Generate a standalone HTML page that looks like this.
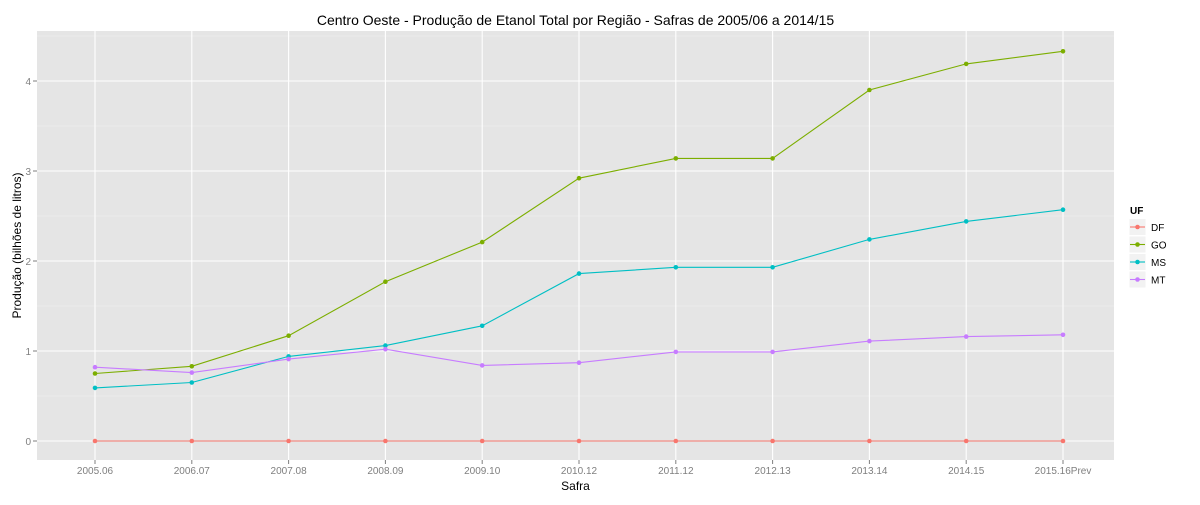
<!DOCTYPE html>
<html><head><meta charset="utf-8"><style>
body{margin:0;background:#fff;font-family:"Liberation Sans",sans-serif}
</style></head><body>
<svg id="chart" width="1200" height="500" xmlns="http://www.w3.org/2000/svg" font-family="Liberation Sans, sans-serif"></svg>
<script>
const categories=["2005.06","2006.07","2007.08","2008.09","2009.10","2010.12","2011.12","2012.13","2013.14","2014.15","2015.16Prev"];
const seriesNames=["DF","GO","MS","MT"];
const dfValues=[0,0,0,0,0,0,0,0,0,0,0];
const goValues=[0.75,0.83,1.17,1.77,2.21,2.92,3.14,3.14,3.90,4.19,4.33];
const msValues=[0.59,0.65,0.94,1.06,1.28,1.86,1.93,1.93,2.24,2.44,2.57];
const mtValues=[0.82,0.76,0.91,1.02,0.84,0.87,0.99,0.99,1.11,1.16,1.18];
const yTicks=[0,1,2,3,4];
const colors={DF:"#F8766D",GO:"#7CAE00",MS:"#00BFC4",MT:"#C77CFF"};
const series={DF:dfValues,GO:goValues,MS:msValues,MT:mtValues};

const svg=document.getElementById('chart');
const NS="http://www.w3.org/2000/svg";
const L=37,R=1114,T=31,B=460;
const x0=95,dx=(1063-95)/(categories.length-1);
const xS=i=>x0+i*dx;
const yS=v=>441-v*90;
function el(tag,attrs,parent){const e=document.createElementNS(NS,tag);for(const k in attrs)e.setAttribute(k,attrs[k]);(parent||svg).appendChild(e);return e;}

const panel=el('rect',{x:L,y:T,width:R-L,height:B-T,fill:'#E5E5E5'});


// minor grid
for(let i=0;i<yTicks.length-1;i++){const v=(yTicks[i]+yTicks[i+1])/2;el('line',{x1:L,x2:R,y1:yS(v),y2:yS(v),stroke:'#F2F2F2','stroke-width':0.6});}
{const v=yTicks[yTicks.length-1]+0.5;if(yS(v)>T)el('line',{x1:L,x2:R,y1:yS(v),y2:yS(v),stroke:'#F2F2F2','stroke-width':0.6});}
yTicks.forEach(v=>{
 const g=el('line',{x1:L,x2:R,y1:yS(v),y2:yS(v),stroke:'#fff','stroke-width':1.1});
 
 
 el('line',{x1:L-4,x2:L,y1:yS(v),y2:yS(v),stroke:'#7f7f7f'});
 const t=el('text',{x:L-6,y:yS(v)+4,'text-anchor':'end','font-size':10,fill:'#7f7f7f'});t.textContent=v;
 
 
});
categories.forEach((c,i)=>{
 const g=el('line',{x1:xS(i),x2:xS(i),y1:T,y2:B,stroke:'#fff','stroke-width':1.1});
 
 
 el('line',{x1:xS(i),x2:xS(i),y1:B,y2:B+4,stroke:'#7f7f7f'});
 const t=el('text',{x:xS(i),y:B+14,'text-anchor':'middle','font-size':10,fill:'#7f7f7f'});t.textContent=c;
 
 
});
seriesNames.forEach(n=>{
 const vals=series[n];
 const p=el('polyline',{points:vals.map((v,i)=>xS(i)+','+yS(v)).join(' '),fill:'none',stroke:colors[n],'stroke-width':1.1});
 
 
 vals.forEach((v,i)=>{
  const c=el('circle',{cx:xS(i),cy:yS(v),r:2.3,fill:colors[n]});
  
  
 });
});
const title=el('text',{x:(L+R)/2,y:25,'text-anchor':'middle','font-size':14,fill:'#000'});
title.textContent="Centro Oeste  - Produção de Etanol Total por Região - Safras de 2005/06 a 2014/15";


const xt=el('text',{x:(L+R)/2,y:490,'text-anchor':'middle','font-size':12,fill:'#000'});xt.textContent="Safra";


const yt=el('text',{x:0,y:0,'text-anchor':'middle','font-size':12,fill:'#000',transform:'translate(21,'+((T+B)/2)+') rotate(-90)'});yt.textContent="Produção (bilhões de litros)";


const lt=el('text',{x:1130,y:214,'font-size':10,'font-weight':'bold',fill:'#000'});lt.textContent="UF";


seriesNames.forEach((n,k)=>{
 const y=227+k*17.5;
 const g=el('g',{});
 
 
 el('rect',{x:1129,y:y-8.5,width:17,height:17,fill:'#F2F2F2',stroke:'#fff'},g);
 el('line',{x1:1130,x2:1145,y1:y,y2:y,stroke:colors[n],'stroke-width':1.1},g);
 el('circle',{cx:1137.5,cy:y,r:2.3,fill:colors[n]},g);
 const t=el('text',{x:1151,y:y+4,'font-size':10,fill:'#000'},g);t.textContent=n;
});
</script>
</body></html>
